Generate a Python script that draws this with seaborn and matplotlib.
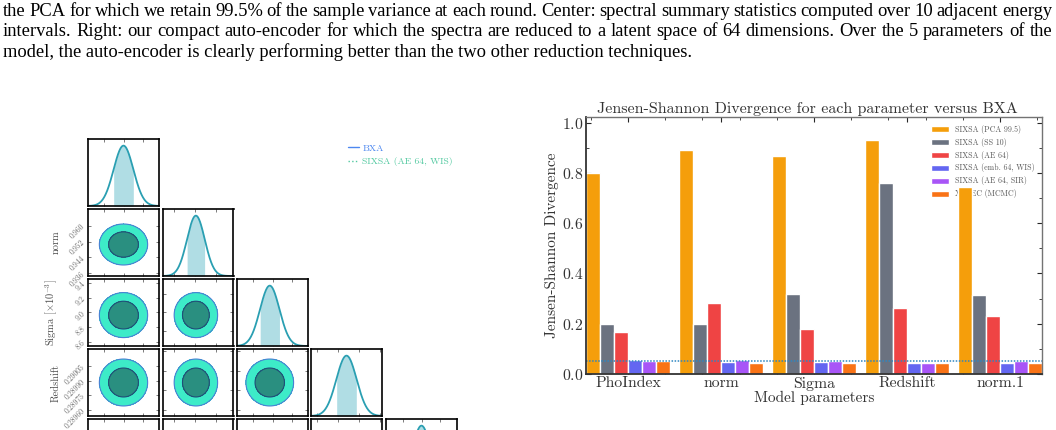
import numpy as np
import pandas as pd
import seaborn as sns
import matplotlib.pyplot as plt
from matplotlib.lines import Line2D
from matplotlib.ticker import (FixedLocator, FormatStrFormatter, AutoMinorLocator,
                               NullFormatter, MaxNLocator, MultipleLocator)

# ---- caption text above the figure ----
caption_lines = [
    "the PCA for which we retain 99.5% of the sample variance at each round. Center: spectral summary statistics computed over 10 adjacent energy",
    "intervals. Right: our compact auto-encoder for which the spectra are reduced to a latent space of 64 dimensions. Over the 5 parameters of the",
    "model, the auto-encoder is clearly performing better than the two other reduction techniques.",
]

# ---- bar chart data ----
parameters = ["PhoIndex", "norm", "Sigma", "Redshift", "norm.1"]
methods = ["SIXSA (PCA 99.5)", "SIXSA (SS 10)", "SIXSA (AE 64)",
           "SIXSA (emb. 64, WIS)", "SIXSA (AE 64, SIR)", "XSPEC (MCMC)"]
method_colors = ["#F59E0B", "#6B7280", "#EF4444", "#6366F1", "#A855F7", "#F97316"]
jsd_pca = [0.80, 0.89, 0.865, 0.93, 0.745]
jsd_ss = [0.20, 0.20, 0.32, 0.76, 0.315]
jsd_ae = [0.167, 0.283, 0.18, 0.264, 0.232]
jsd_emb_wis = [0.055, 0.048, 0.048, 0.044, 0.044]
jsd_ae_sir = [0.05, 0.055, 0.05, 0.044, 0.05]
jsd_xspec = [0.05, 0.044, 0.044, 0.044, 0.044]
jsd_threshold = 0.05

# ---- corner plot: posterior summaries (mean, std) and panel ranges ----
corner_labels = ["PhoIndex", "norm", r"Sigma [$\times10^{-3}$]", "Redshift", "norm.1"]
post_mean = [1.90, 0.9505, 8.965, 0.28988, 1.00]
post_std = [0.010, 0.0042, 0.124, 0.0000973, 0.010]
corner_range = [(1.864, 1.936), (0.9347, 0.9683), (8.548, 9.452), (0.28954, 0.29022), (0.962, 1.038)]
corner_yticks = {1: [0.936, 0.944, 0.952, 0.960],
                 2: [8.6, 8.8, 9.0, 9.2, 9.4],
                 3: [0.28960, 0.28975, 0.28990, 0.29005]}
corner_yfmt = {1: "%.3f", 2: "%.1f", 3: "%.5f"}

sns.set_style("ticks")
plt.rcParams["font.family"] = "cmr10"
plt.rcParams["mathtext.fontset"] = "cm"
plt.rcParams["axes.formatter.use_mathtext"] = True
plt.rcParams["axes.unicode_minus"] = False

W, H = 1056, 430
fig = plt.figure(figsize=(W / 100, H / 100), dpi=100)


def place_line(text, y_px, justify):
    """ Writes one caption line, spreading the words over the full width when justify is set. """
    words = text.split(" ")
    renderer = fig.canvas.get_renderer()
    kw = dict(fontsize=13.3, family="Liberation Serif", va="center", color="black")
    x0, x1 = 3, 1052
    if not justify:
        fig.text(x0 / W, 1 - y_px / H, text, **kw)
        return
    items = [fig.text(0, 1 - y_px / H, w, **kw) for w in words]
    widths = [t.get_window_extent(renderer).width for t in items]
    gap = (x1 - x0 - sum(widths)) / (len(words) - 1)
    x = x0
    for t, w in zip(items, widths):
        t.set_x(x / W)
        x += w + gap


for k, line in enumerate(caption_lines):
    place_line(line, 12 + 20 * k, justify=k < len(caption_lines) - 1)

# ---- corner plot ----
col_left = [88, 162.5, 237, 311, 386]
row_top = [139, 209, 279, 349, 419]
pw, ph = 71, 67
outer_fill, inner_fill = "#3DEBC8", "#2A8F80"
curve_color, band_color = "#2A9FB2", "#B0DDE4"

n = len(post_mean)
for i in range(n):
    for j in range(i + 1):
        ax = fig.add_axes([col_left[j] / W, 1 - (row_top[i] + ph) / H, pw / W, ph / H])
        mx, sx = post_mean[j], post_std[j]
        if i == j:
            xs = np.linspace(*corner_range[j], 200)
            pdf = np.exp(-0.5 * ((xs - mx) / sx) ** 2)
            band = np.abs(xs - mx) <= sx
            ax.fill_between(xs[band], 0, pdf[band], color=band_color, lw=0)
            sns.lineplot(x=xs, y=pdf, color=curve_color, lw=1.3, ax=ax)
            ax.set_ylim(0, 1.11)
            ax.set_yticks([])
        else:
            my, sy = post_mean[i], post_std[i]
            gx, gy = np.meshgrid(np.linspace(*corner_range[j], 150), np.linspace(*corner_range[i], 150))
            z = np.exp(-0.5 * (((gx - mx) / sx) ** 2 + ((gy - my) / sy) ** 2))
            levels = [np.exp(-5.99 / 2), np.exp(-2.279 / 2), 1.01]
            ax.contourf(gx, gy, z, levels=levels, colors=[outer_fill, inner_fill])
            ax.contour(gx, gy, z, levels=levels[:2], colors=["#4A7FD4", "#1F4E79"], linewidths=0.8)
            ax.set_ylim(*corner_range[i])
            if j == 0 and i in corner_yticks:
                ax.yaxis.set_major_locator(FixedLocator(corner_yticks[i]))
                ax.yaxis.set_major_formatter(FormatStrFormatter(corner_yfmt[i]))
                ax.tick_params(axis="y", labelrotation=45, labelsize=5.5, labelcolor="0.3", pad=1)
                ax.set_ylabel(corner_labels[i], fontsize=7.5, color="0.3")
                ax.yaxis.set_label_coords(-0.39, 0.5)
            else:
                ax.yaxis.set_major_locator(MaxNLocator(4))
                ax.yaxis.set_major_formatter(NullFormatter())
        ax.set_xlim(*corner_range[j])
        ax.xaxis.set_major_locator(MaxNLocator(4))
        ax.xaxis.set_major_formatter(NullFormatter())
        ax.tick_params(direction="in", length=2, width=0.6, colors="0.4", top=True, right=True)
        ax.set_xlabel("")
        for sp in ax.spines.values():
            sp.set_color("black")
            sp.set_linewidth(1.2)

handles = [Line2D([], [], color="#4D88F0", lw=1),
           Line2D([], [], color="#52C9A0", lw=1, ls=":")]
fig.legend(handles, ["BXA", "SIXSA (AE 64, WIS)"], loc="upper left",
           bbox_to_anchor=(339 / W, 1 - 135 / H), frameon=False, fontsize=7,
           handlelength=1.2, handletextpad=0.3, labelspacing=0.45, labelcolor="linecolor")

# ---- bar chart ----
series = [jsd_pca, jsd_ss, jsd_ae, jsd_emb_wis, jsd_ae_sir, jsd_xspec]
rows = [(p, m, v) for m, vals in zip(methods, series) for p, v in zip(parameters, vals)]
jsd = pd.DataFrame(rows, columns=["parameter", "method", "jsd"])

bx = fig.add_axes([586 / W, 1 - 374 / H, 456 / W, 256.5 / H])
sns.barplot(data=jsd, x="parameter", y="jsd", hue="method", hue_order=methods,
            palette=method_colors, width=0.9, gap=0, saturation=1, ax=bx)
bx.axhline(jsd_threshold, ls=(0, (1, 1)), color="#2E86C1", lw=1.1)
bx.set_xlim(-0.45, 4.45)
bx.set_ylim(0, 1.02)
bx.yaxis.set_minor_locator(AutoMinorLocator(2))
bx.xaxis.set_minor_locator(MultipleLocator(0.4))
bx.tick_params(direction="in", top=True, right=True, labelsize=11.3, labelcolor="0.2", pad=2)
bx.tick_params(which="minor", direction="in", top=True, right=True, length=2)
bx.set_title("Jensen-Shannon Divergence for each parameter versus BXA", fontsize=11.5,
             color="0.2", pad=3, x=0.485)
bx.set_xlabel("Model parameters", fontsize=11, color="0.2", labelpad=0)
bx.set_ylabel("Jensen-Shannon Divergence", fontsize=11, color="0.2", labelpad=2)
for name, sp in bx.spines.items():
    sp.set_color("0.2" if name in ("left", "bottom") else "0.45")
    sp.set_linewidth(1.3 if name in ("left", "bottom") else 1.0)
leg = bx.legend(loc="upper right", bbox_to_anchor=(1.0, 1.0), frameon=False, fontsize=5.7,
                handlelength=2.3, handleheight=0.8, handletextpad=0.8, labelspacing=0.5, labelcolor="0.35")
leg.set_zorder(0.5)

fig.savefig("out.png", dpi=100)
